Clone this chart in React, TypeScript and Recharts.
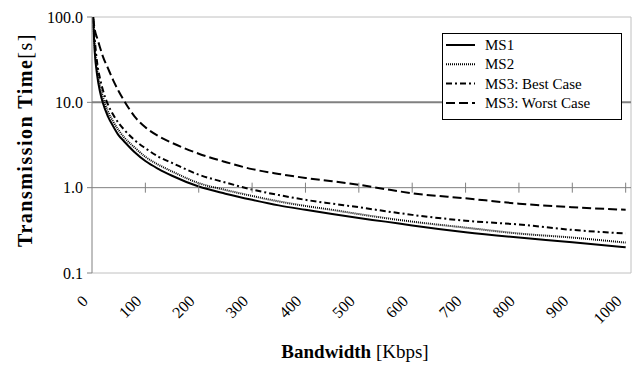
import {
  ComposedChart,
  Legend,
  Line,
  ReferenceDot,
  ReferenceLine,
  XAxis,
  YAxis,
} from "recharts";

const BANDWIDTH = [
  2, 5, 10, 15, 20, 30, 40, 50, 60, 80, 100, 125, 150, 200, 250, 300, 350, 400,
  450, 500, 550, 600, 700, 800, 900, 1000,
];
const MS1 = [
  100, 40, 20, 13.3, 10, 6.8, 5.2, 4.1, 3.5, 2.6, 2.05, 1.65, 1.38, 1.03, 0.85,
  0.72, 0.62, 0.55, 0.49, 0.44, 0.4, 0.36, 0.3, 0.26, 0.23, 0.2,
];
const MS2 = [
  100, 46, 23, 15.5, 11.7, 7.8, 5.9, 4.7, 3.9, 2.95, 2.3, 1.85, 1.55, 1.13, 0.94,
  0.8, 0.69, 0.61, 0.55, 0.49, 0.44, 0.4, 0.34, 0.29, 0.26, 0.227,
];
const MS3_BEST = [
  100, 56, 28, 19, 14.2, 9.4, 7.1, 5.7, 4.8, 3.6, 2.9, 2.3, 1.95, 1.42, 1.15,
  0.95, 0.82, 0.72, 0.65, 0.59, 0.53, 0.48, 0.41, 0.37, 0.32, 0.29,
];
const MS3_WORST = [
  100, 72, 56, 44, 35, 25, 18, 13.5, 10.5, 6.8, 5.1, 4.0, 3.35, 2.5, 2.0, 1.65,
  1.45, 1.3, 1.19, 1.08, 0.96, 0.86, 0.75, 0.65, 0.59, 0.55,
];

const X_TICKS = [0, 100, 200, 300, 400, 500, 600, 700, 800, 900, 1000];
const Y_TICKS = [0.1, 1, 10, 100];

const SERIES = [
  { key: "ms1", name: "MS1", dash: undefined, width: 2 },
  { key: "ms2", name: "MS2", dash: "1 1", width: 2 },
  { key: "best", name: "MS3: Best Case", dash: "6 3 2 3", width: 2 },
  { key: "worst", name: "MS3: Worst Case", dash: "9 4", width: 2 },
];

const data = BANDWIDTH.map((x, i) => ({
  x,
  ms1: MS1[i],
  ms2: MS2[i],
  best: MS3_BEST[i],
  worst: MS3_WORST[i],
}));

const FONT = '"Liberation Serif", "Times New Roman", serif';

function XTick({ x, y, payload }: { x?: number; y?: number; payload?: { value: number } }) {
  return (
    <g transform={`translate(${(x ?? 0) - 3}, ${(y ?? 0) + 21})`}>
      <text
        style={{ fontFamily: FONT, fontSize: 16 }}
        fill="#000"
        textAnchor="end"
        transform="rotate(-45)"
      >
        {payload?.value}
      </text>
    </g>
  );
}

function LegendBox() {
  return (
    <svg width={180} height={87} style={{ display: "block" }}>
      <rect x={0.5} y={0.5} width={179} height={86} fill="#fff" stroke="#000" />
      {SERIES.map((s, i) => {
        const cy = 12 + i * 19.3;
        return (
          <g key={s.key}>
            <line
              x1={4}
              x2={33}
              y1={cy}
              y2={cy}
              stroke="#000"
              strokeWidth={s.width}
              strokeDasharray={s.dash}
            />
            <text x={43} y={cy + 5} fontFamily={FONT} fontSize={15} fill="#000">
              {s.name}
            </text>
          </g>
        );
      })}
    </svg>
  );
}

export default function App() {
  return (
    <div style={{ position: "absolute", left: 0, top: 0, background: "#fff" }}>
      <ComposedChart
        width={636}
        height={365}
        data={data}
        margin={{ top: 17, right: 5, left: 0, bottom: 0 }}
      >
        <XAxis
          dataKey="x"
          type="number"
          domain={[0, 1010]}
          ticks={X_TICKS}
          interval={0}
          allowDataOverflow
          axisLine={false}
          tickLine={false}
          height={92}
          tick={<XTick />}
          label={{
            position: "insideBottom",
            content: ({ viewBox }: any) => (
              <text
                x={355}
                y={(viewBox?.y ?? 273) + 85}
                textAnchor="middle"
                fontFamily={FONT}
                fontSize={19}
                fill="#000"
              >
                <tspan fontWeight="bold">Bandwidth</tspan>
                <tspan> [Kbps]</tspan>
              </text>
            ),
          }}
        />
        <YAxis
          type="number"
          scale="log"
          domain={[0.1, 100]}
          ticks={Y_TICKS}
          allowDataOverflow
          width={92}
          axisLine={{ stroke: "#808080" }}
          tickLine={{ stroke: "#808080" }}
          tickSize={5}
          tickMargin={4}
          tick={{ fill: "#000", fontFamily: FONT, fontSize: 16 }}
          tickFormatter={(v: number) => v.toFixed(1)}
          label={{
            position: "insideLeft",
            content: ({ viewBox }: any) => {
              const cy = (viewBox?.y ?? 17) + (viewBox?.height ?? 256) / 2 - 5;
              return (
                <text
                  x={25}
                  y={cy}
                  transform={`rotate(-90, 25, ${cy})`}
                  textAnchor="middle"
                  dominantBaseline="central"
                  fontFamily={FONT}
                  fontSize={20}
                  letterSpacing={1.5}
                  fill="#000"
                >
                  <tspan fontWeight="bold">Transmission Time</tspan>
                  <tspan>[s]</tspan>
                </text>
              );
            },
          }}
        />
        <ReferenceLine y={100} stroke="#c0c0c0" strokeWidth={1} />
        <ReferenceLine y={0.1} stroke="#c0c0c0" strokeWidth={1} />
        <ReferenceLine x={1010} stroke="#c0c0c0" strokeWidth={1} />
        <ReferenceLine y={10} stroke="#808080" strokeWidth={2} />
        <ReferenceLine y={1} stroke="#808080" strokeWidth={1} />
        {X_TICKS.filter((t) => t > 0).map((t) => (
          <ReferenceDot
            key={t}
            x={t}
            y={1}
            r={0}
            fill="none"
            stroke="none"
            ifOverflow="visible"
            shape={(props: { cx?: number; cy?: number }) => {
              if (typeof props.cx !== "number" || typeof props.cy !== "number") {
                return <g />;
              }
              return (
                <line
                  x1={props.cx}
                  x2={props.cx}
                  y1={props.cy - 5}
                  y2={props.cy + 5}
                  stroke="#808080"
                  strokeWidth={1}
                />
              );
            }}
          />
        ))}
        <Legend
          layout="vertical"
          align="center"
          verticalAlign="middle"
          content={() => <LegendBox />}
          wrapperStyle={{ left: 442, top: 33, width: 180, height: 87 }}
        />
        {SERIES.map((s) => (
          <Line
            key={s.key}
            dataKey={s.key}
            name={s.name}
            type="monotone"
            stroke="#000"
            strokeWidth={s.width}
            strokeDasharray={s.dash}
            dot={false}
            activeDot={false}
            isAnimationActive={false}
          />
        ))}
      </ComposedChart>
    </div>
  );
}
